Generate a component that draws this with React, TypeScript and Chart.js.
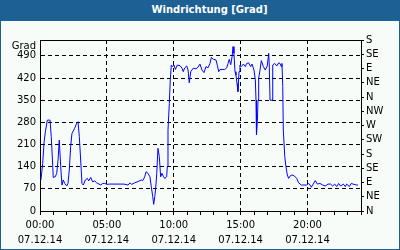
import { useEffect, useRef } from 'react';
import { Chart, registerables } from 'chart.js';

Chart.register(...registerables);

// time of day in hours (07.12.14)
const hours = [
  0.07, 0.2, 0.3, 0.4, 0.55, 0.75, 0.84, 0.95, 0.99, 1.14, 1.25, 1.35, 1.44, 1.55, 1.64, 1.74, 1.85, 2.0, 2.09, 2.19,
  2.29, 2.39, 2.59, 2.74, 2.84, 2.94, 3.04, 3.14, 3.24, 3.39, 3.54, 3.64, 3.79, 3.94, 4.09, 4.24, 4.54, 4.69, 4.84, 5.01,
  5.18, 5.53, 5.98, 6.28, 6.58, 6.73, 6.84, 7.08, 7.33, 7.57, 7.68, 7.83, 7.93, 8.07, 8.22, 8.32, 8.43, 8.5, 8.58, 8.65,
  8.73, 8.82, 8.92, 9.02, 9.12, 9.22, 9.32, 9.47, 9.52, 9.57, 9.67, 9.74, 9.82, 9.92, 10.02, 10.12, 10.27, 10.47, 10.62, 10.71,
  10.82, 10.97, 11.07, 11.16, 11.27, 11.46, 11.66, 11.81, 11.96, 12.11, 12.26, 12.41, 12.56, 12.71, 12.81, 12.96, 13.16, 13.26, 13.36, 13.46,
  13.61, 13.81, 13.96, 14.06, 14.15, 14.26, 14.36, 14.43, 14.5, 14.58, 14.65, 14.73, 14.8, 14.88, 14.95, 15.05, 15.2, 15.35, 15.45, 15.6,
  15.75, 15.85, 16.0, 16.1, 16.15, 16.17, 16.2, 16.25, 16.3, 16.35, 16.45, 16.55, 16.7, 16.84, 16.99, 17.1, 17.14, 17.2, 17.35, 17.4,
  17.55, 17.7, 17.85, 17.94, 18.04, 18.09, 18.15, 18.19, 18.3, 18.39, 18.49, 18.59, 18.69, 18.84, 19.04, 19.19, 19.34, 19.54, 19.74, 19.94,
  20.09, 20.19, 20.28, 20.43, 20.58, 20.73, 20.93, 21.14, 21.33, 21.53, 21.73, 21.88, 22.03, 22.18, 22.33, 22.48, 22.68, 22.83, 22.93, 23.13,
  23.27, 23.48, 23.68, 23.78,
];

// wind direction in degrees
const degrees = [
  98, 150, 215, 250, 287, 287, 235, 145, 106, 108, 119, 161, 224, 140, 82, 98, 87, 79, 87, 129,
  203, 245, 261, 277, 282, 235, 161, 87, 82, 98, 103, 95, 106, 92, 95, 89, 82, 87, 87, 84,
  85, 85, 85, 85, 82, 89, 84, 89, 93, 98, 96, 108, 124, 119, 108, 77, 45, 21, 45, 72,
  119, 198, 172, 108, 119, 110, 103, 108, 140, 256, 340, 414, 461, 456, 461, 447, 461, 459, 451, 440,
  452, 458, 445, 405, 440, 451, 449, 454, 464, 445, 437, 456, 452, 466, 485, 479, 477, 460, 440, 447,
  447, 447, 452, 466, 479, 462, 487, 519, 498, 440, 429, 403, 377, 440, 461, 456, 464, 456, 466, 468,
  456, 464, 445, 414, 350, 282, 240, 282, 350, 419, 445, 475, 456, 445, 458, 498, 461, 350, 350, 461,
  466, 458, 468, 466, 456, 466, 393, 256, 172, 140, 114, 103, 110, 114, 110, 103, 89, 82, 82, 82,
  87, 82, 75, 85, 96, 85, 87, 82, 79, 85, 85, 79, 85, 77, 87, 79, 85, 77, 85, 77,
  87, 84, 82, 82,
];

const timeLabels: Record<number, string> = { 0: '00:00', 5: '05:00', 10: '10:00', 15: '15:00', 20: '20:00' };
const dateLabel = '07.12.14';
const compass = ['N', 'NE', 'E', 'SE', 'S', 'SW', 'W', 'NW', 'N', 'NE', 'E', 'SE', 'S'];
const yUnit = 'Grad';
const title = 'Windrichtung [Grad]';

const FONT = { family: '"DejaVu Sans", sans-serif', size: 10 };

export default function App() {
  const ref = useRef<HTMLCanvasElement | null>(null);

  useEffect(() => {
    if (!ref.current) return;
    const framePlugin = {
      id: 'framePlugin',
      afterDraw(chart: any) {
        const { ctx, chartArea } = chart;
        ctx.save();
        ctx.strokeStyle = '#000';
        ctx.lineWidth = 1;
        ctx.beginPath();
        ctx.moveTo(chartArea.left, Math.round(chartArea.top) + 0.5);
        ctx.lineTo(chartArea.right + 1, Math.round(chartArea.top) + 0.5);
        ctx.stroke();
        ctx.fillStyle = '#000';
        ctx.font = '10px "DejaVu Sans", sans-serif';
        ctx.textAlign = 'right';
        ctx.textBaseline = 'middle';
        ctx.fillText(yUnit, chartArea.left - 4, chartArea.top + 6);
        ctx.restore();
      },
    };

    const chart = new Chart(ref.current, {
      type: 'line',
      data: {
        datasets: [
          {
            data: hours.map((h, i) => ({ x: h, y: degrees[i] })),
            borderColor: '#0000ff',
            borderWidth: 1,
            pointRadius: 0,
            tension: 0,
            fill: false,
            yAxisID: 'y',
          },
        ],
      },
      options: {
        responsive: false,
        animation: false,
        layout: { padding: { top: 40, left: 0, right: 0, bottom: 0 } },
        plugins: { legend: { display: false }, tooltip: { enabled: false }, title: { display: false } },
        scales: {
          x: {
            type: 'linear',
            position: 'bottom',
            min: 0,
            max: 24,
            afterFit: (s: any) => { s.height = 39; },
            ticks: {
              stepSize: 1,
              autoSkip: false,
              maxRotation: 0,
              minRotation: 0,
              padding: 3,
              color: '#000',
              font: { ...FONT, lineHeight: 1.5 },
              callback: (v: any) => (timeLabels[v] !== undefined ? [timeLabels[v], dateLabel] : ''),
            },
            grid: {
              color: (c: any) => {
                const v = c.tick ? c.tick.value : 0;
                return v > 0 && v < 24 && v % 5 === 0 ? '#000' : 'rgba(0,0,0,0)';
              },
              tickColor: '#000',
              tickLength: 4,
              lineWidth: 1,
            },
            border: { display: true, color: '#000', width: 1, dash: [4, 3] },
          },
          y: {
            type: 'linear',
            position: 'left',
            min: 0,
            max: 540,
            afterFit: (s: any) => { s.width = 40; },
            ticks: { stepSize: 70, includeBounds: false, autoSkip: false, padding: 4, color: '#000', font: FONT },
            grid: {
              drawTicks: false,
              color: (c: any) => (c.tick && c.tick.value > 0 ? '#000' : 'rgba(0,0,0,0)'),
              lineWidth: 1,
            },
            border: { display: true, color: '#000', width: 1, dash: [4, 3] },
          },
          y2: {
            type: 'linear',
            position: 'right',
            min: 0,
            max: 540,
            afterFit: (s: any) => { s.width = 39; },
            ticks: {
              stepSize: 45,
              autoSkip: false,
              padding: 2,
              color: '#000',
              font: FONT,
              callback: (v: any) => compass[Math.round(v / 45)] ?? '',
            },
            grid: { drawOnChartArea: false, tickColor: '#000', tickLength: 3, lineWidth: 1 },
            border: { display: true, color: '#000', width: 1 },
          },
        },
      },
      plugins: [framePlugin],
    } as any);
    return () => chart.destroy();
  }, []);

  return (
    <div style={{ position: 'fixed', left: 0, top: 0, width: 400, height: 250, background: '#1d6093', overflow: 'hidden' }}>
      <div
        style={{
          position: 'absolute', left: 0, top: 0, width: 419, height: 20, lineHeight: '20px', textAlign: 'center',
          color: '#fff', fontFamily: '"DejaVu Sans", sans-serif', fontWeight: 'bold', fontSize: 10,
        }}
      >
        {title}
      </div>
      <div style={{ position: 'absolute', left: 1, top: 21, width: 398, height: 228, background: '#f8fcf8' }} />
      <canvas ref={ref} width={400} height={250} style={{ position: 'absolute', left: 0, top: 0, width: 400, height: 250 }} />
    </div>
  );
}
